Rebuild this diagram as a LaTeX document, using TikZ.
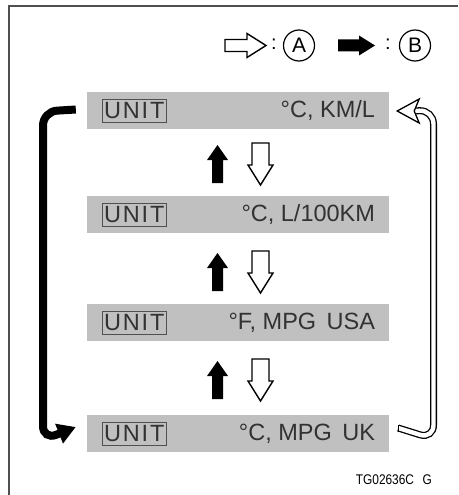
\documentclass[tikz,border=0pt]{standalone}
\usepackage{fontspec}
\setmainfont{Liberation Sans}
\newfontfamily\unitfont{Liberation Sans}[LetterSpace=8]
\usetikzlibrary{arrows.meta,positioning}
\definecolor{bargray}{RGB}{192,192,192}
\definecolor{lcdtext}{RGB}{50,50,50}
\definecolor{framegray}{RGB}{80,80,80}
\begin{document}
\begin{tikzpicture}[x=1pt, y=-1pt,
	bar/.style={fill=bargray, inner sep=0, minimum width=302, minimum height=37},
	unitbox/.style={draw=framegray, line width=0.9, inner sep=0, minimum width=64, minimum height=23, text=lcdtext, font=\unitfont\fontsize{23.5}{23.5}\selectfont},
	value/.style={text=lcdtext, inner sep=0, font=\fontsize{23.5}{23.5}\selectfont},
	letter/.style={circle, draw, line width=1.2, inner sep=0, minimum size=31, font=\fontsize{21}{21}\selectfont},
	blkconn/.style={line width=8, rounded corners=14},
	dblconn/.style={double, double distance=4.4, line width=1.3, rounded corners=14},
	pics/upfill/.style={code={\fill (0,-19) -- (10.5,-4) -- (5.5,-4) -- (5.5,19) -- (-5.5,19) -- (-5.5,-4) -- (-10.5,-4) -- cycle;}},
	pics/downhollow/.style={code={\draw[line width=1.4, fill=white] (0,21) -- (12.5,1) -- (8.5,1) -- (8.5,-21) -- (-8.5,-21) -- (-8.5,1) -- (-12.5,1) -- cycle;}},
	pics/righthollow/.style={code={\draw[line width=1.4, fill=white] (20.5,0) -- (1.5,-12) -- (1.5,-6) -- (-20.5,-6) -- (-20.5,6) -- (1.5,6) -- (1.5,12) -- cycle;}},
	pics/rightfill/.style={code={\fill (18.5,0) -- (2.5,-10) -- (2.5,-6) -- (-18.5,-6) -- (-18.5,6) -- (2.5,6) -- (2.5,10) -- cycle;}}]
	\useasboundingbox (0,0) rectangle (458,495);
	\draw[framegray, line width=1.5] (9,495) -- (9,6) -- (458,6);
	% legend
	\pic (la arrow) at (245.5,45.5) {righthollow};
	\node[font=\fontsize{20}{20}\selectfont] (la colon) at (274,44) {:};
	\node[letter] (la) at (299,45.5) {A};
	\pic (lb arrow) at (356.5,45.5) {rightfill};
	\node[font=\fontsize{20}{20}\selectfont] (lb colon) at (388,44) {:};
	\node[letter] (lb) at (415,45.5) {B};
	% display bars
	\node[bar] (b1) at (238,110.5) {};
	\node[bar] (b2) at (238,214.5) {};
	\node[bar] (b3) at (238,322.5) {};
	\node[bar] (b4) at (238,433.5) {};
	\foreach \b/\v in {b1/{°C, KM/L}, b2/{°C, L/100KM}, b3/{°F, MPG\, USA}, b4/{°C, MPG\, UK}} {
		\node[unitbox, right=15 of \b.west, anchor=west] (\b unit) {UNIT};
		\node[value, left=14 of \b.east, anchor=east] (\b value) {\v};
	}
	% step arrows
	\foreach \y in {164,272,380} {
		\pic at (217.5,\y) {upfill};
		\pic at (260.5,\y) {downhollow};
	}
	% loop arrows
	\draw[blkconn, -{Triangle[length=18pt, width=20pt]}] ([xshift=-11,yshift=1]b1.west) -- (43,111.5) -- (43,440) -- ([xshift=-11,yshift=6.5]b4.west);
	\draw[dblconn] ([xshift=9,yshift=5.5]b4.east) -- (433.5,439) -- (433.5,110) -- ([xshift=24,yshift=-0.5]b1.east);
	\draw[line width=1.3] ([xshift=9,yshift=2]b4.east) -- ([xshift=9,yshift=9]b4.east);
	\draw[line width=1.3, fill=white] ([xshift=8,yshift=-0.5]b1.east) -- ++(22,-12) -- ++(-5,12) -- ++(5,12) -- cycle;
	\node[anchor=east, inner sep=0, xscale=0.85, font=\fontsize{14}{14}\selectfont] (code) at (432,480) {TG02636C\hspace{10pt}G};
\end{tikzpicture}
\end{document}
